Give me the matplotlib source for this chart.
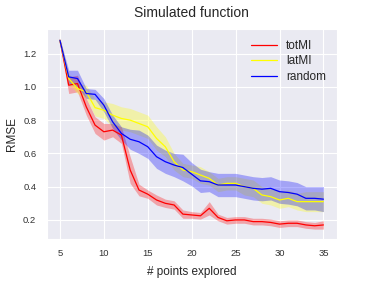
import matplotlib
matplotlib.use("Agg")
import matplotlib.pyplot as plt
import seaborn as sns
import numpy as np

sns.set_style("darkgrid")
plt.rcParams['font.family'] = ['Liberation Sans', 'DejaVu Sans']

# ── data ────────────────────────────────────────────────────────────────────
n_points = list(range(5, 36))

totmi_mean = [1.28, 1.01, 1.02, 0.88, 0.77, 0.73, 0.74, 0.71, 0.50, 0.38,
              0.355, 0.32, 0.30, 0.29, 0.235, 0.23, 0.225, 0.27, 0.215, 0.195,
              0.20, 0.20, 0.19, 0.19, 0.185, 0.175, 0.18, 0.18, 0.17, 0.165, 0.17]
totmi_err = [0.01, 0.05, 0.05, 0.05, 0.05, 0.05, 0.04, 0.05, 0.08, 0.035,
             0.025, 0.03, 0.025, 0.025, 0.025, 0.02, 0.02, 0.04, 0.02, 0.02,
             0.02, 0.02, 0.02, 0.02, 0.02, 0.02, 0.02, 0.02, 0.02, 0.02, 0.025]

latmi_mean = [1.28, 1.05, 0.99, 0.97, 0.875, 0.86, 0.83, 0.81, 0.80, 0.78,
              0.76, 0.69, 0.64, 0.55, 0.50, 0.49, 0.47, 0.45, 0.41, 0.42,
              0.42, 0.40, 0.39, 0.35, 0.34, 0.32, 0.33, 0.31, 0.31, 0.31, 0.31]
latmi_err = [0.01, 0.03, 0.03, 0.04, 0.05, 0.05, 0.07, 0.07, 0.07, 0.07,
             0.07, 0.07, 0.06, 0.05, 0.04, 0.04, 0.05, 0.04, 0.04, 0.04,
             0.04, 0.05, 0.05, 0.05, 0.05, 0.05, 0.05, 0.05, 0.06, 0.06, 0.06]

random_mean = [1.28, 1.06, 1.05, 0.96, 0.955, 0.89, 0.79, 0.72, 0.685, 0.67,
               0.64, 0.58, 0.55, 0.53, 0.515, 0.475, 0.435, 0.43, 0.41, 0.41,
               0.41, 0.40, 0.39, 0.385, 0.39, 0.37, 0.365, 0.355, 0.33, 0.33, 0.325]
random_err = [0.01, 0.04, 0.05, 0.03, 0.03, 0.04, 0.04, 0.04, 0.06, 0.07,
              0.07, 0.07, 0.07, 0.07, 0.08, 0.07, 0.07, 0.06, 0.07, 0.07,
              0.07, 0.07, 0.07, 0.07, 0.07, 0.07, 0.07, 0.07, 0.07, 0.07, 0.075]

series = [
    ("totMI", totmi_mean, totmi_err, "red"),
    ("latMI", latmi_mean, latmi_err, "yellow"),
    ("random", random_mean, random_err, "blue"),
]

fig, ax = plt.subplots(figsize=(3.74, 2.91), dpi=100)

x = np.array(n_points)
for name, mean, err, col in series:
    m = np.array(mean)
    e = np.array(err)
    ax.fill_between(x, m - e, m + e, color=col, alpha=0.3, linewidth=0)
    ax.plot(x, m, color=col, linewidth=0.9, label=name)

ax.set_xticks([5, 10, 15, 20, 25, 30, 35])
ax.set_yticks([0.2, 0.4, 0.6, 0.8, 1.0, 1.2])
ax.tick_params(labelsize=6.8, pad=4, labelcolor='#333333')
ax.set_xlabel("# points explored", fontsize=8.5, labelpad=6)
ax.set_ylabel("RMSE", fontsize=8.5, labelpad=4)
ax.set_title("Simulated function", fontsize=10, pad=9)
ax.legend(loc="upper right", frameon=False, fontsize=8.5, labelspacing=0.3,
          handlelength=2.2)

fig.subplots_adjust(left=0.125, right=0.9, top=0.9, bottom=0.18)
fig.savefig("out.png", dpi=100)
